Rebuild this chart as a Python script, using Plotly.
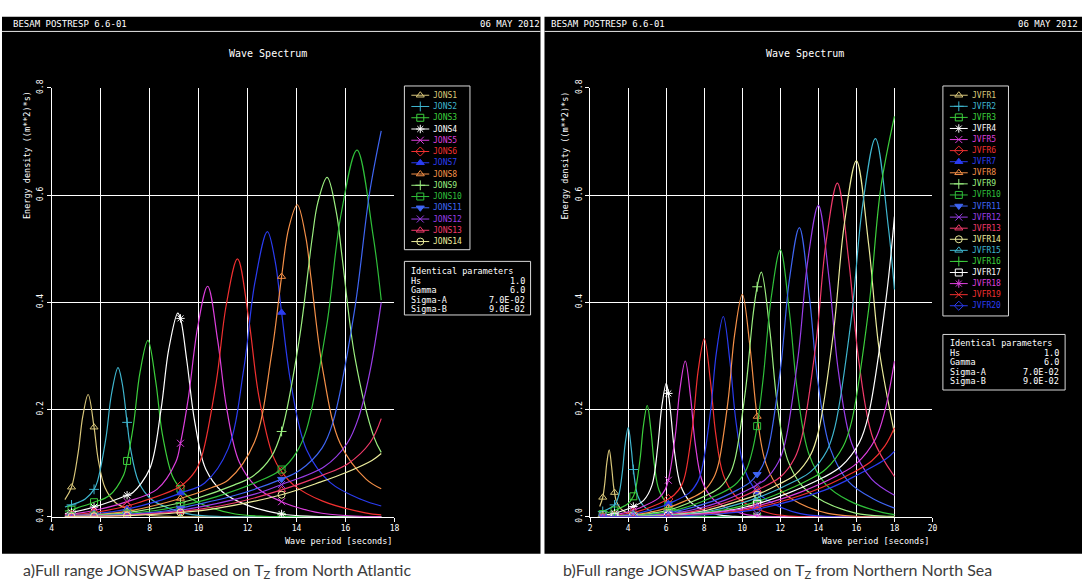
import plotly.graph_objects as go

W, H = 1087, 587
MONO = "DejaVu Sans Mono"

# ---------------------------------------------------------------------------
# Wave periods (s) where the post-processor prints a symbol on every curve
MARK_T_A = [4.81, 5.73, 7.08, 9.26, 13.39]
MARK_T_B = [2.66, 3.28, 4.27, 6.11, 10.78]

# (a) North Atlantic: (wave period [s], energy density [m^2 s])
jons1 = [(4.54, 0.032), (4.81, 0.055), (5.08, 0.119), (5.27, 0.187), (5.49, 0.228), (5.73, 0.167),
         (5.90, 0.107), (6.18, 0.054), (6.59, 0.027), (7.08, 0.015), (7.96, 0.003), (8.78, 0.0004),
         (9.26, 0.0), (13.39, 0.0), (17.46, 0.0)]
jons2 = [(4.54, 0.018), (4.81, 0.022), (5.37, 0.033), (5.73, 0.051), (5.87, 0.066), (6.21, 0.145),
         (6.44, 0.228), (6.71, 0.278), (6.88, 0.249), (7.08, 0.176), (7.21, 0.130), (7.55, 0.065),
         (8.05, 0.033), (8.72, 0.017), (9.26, 0.009), (9.73, 0.004), (10.74, 0.0005), (13.39, 0.0),
         (17.46, 0.0)]
jons3 = [(4.54, 0.0105), (4.81, 0.013), (5.15, 0.018), (5.73, 0.027), (6.34, 0.039), (6.94, 0.078),
         (7.08, 0.104), (7.34, 0.171), (7.61, 0.270), (7.93, 0.329), (8.25, 0.252), (8.52, 0.154),
         (8.92, 0.077), (9.26, 0.052), (9.52, 0.039), (10.31, 0.020), (11.50, 0.005), (12.69, 0.0006),
         (13.39, 0.0), (17.46, 0.0)]
jons4 = [(4.54, 0.006), (4.81, 0.008), (5.73, 0.018), (7.08, 0.040), (7.32, 0.045), (8.01, 0.090),
         (8.46, 0.198), (8.78, 0.312), (9.15, 0.380), (9.26, 0.370), (9.52, 0.291), (9.84, 0.178),
         (10.29, 0.089), (10.98, 0.046), (11.90, 0.023), (13.39, 0.005), (14.64, 0.0006), (17.46, 0.0)]
jons5 = [(4.54, 0.004), (4.81, 0.005), (5.19, 0.007), (5.73, 0.0115), (6.74, 0.023), (7.08, 0.028),
         (8.30, 0.051), (9.07, 0.102), (9.26, 0.137), (9.59, 0.224), (9.96, 0.353), (10.37, 0.430),
         (10.78, 0.329), (11.15, 0.201), (11.67, 0.101), (12.44, 0.052), (13.39, 0.028), (14.52, 0.011),
         (15.04, 0.0064), (16.59, 0.0007), (17.46, 0.0001)]
jons6 = [(4.54, 0.0025), (4.81, 0.0034), (5.73, 0.0077), (7.08, 0.020), (7.53, 0.026), (9.26, 0.057),
         (9.85, 0.084), (10.14, 0.114), (10.72, 0.251), (11.13, 0.395), (11.59, 0.481), (12.05, 0.368),
         (12.46, 0.225), (13.04, 0.113), (13.39, 0.084), (13.91, 0.058), (15.07, 0.029), (16.81, 0.0072),
         (17.46, 0.0035)]
jons7 = [(4.54, 0.0017), (4.81, 0.0023), (5.73, 0.0053), (6.41, 0.0089), (7.08, 0.014), (8.33, 0.029),
         (9.26, 0.044), (10.25, 0.063), (11.21, 0.127), (11.85, 0.277), (12.30, 0.437), (12.81, 0.532),
         (13.13, 0.476), (13.39, 0.381), (13.77, 0.249), (14.41, 0.125), (15.37, 0.064), (16.65, 0.032),
         (17.46, 0.020)]
jons8 = [(4.54, 0.0012), (4.81, 0.0016), (5.73, 0.0037), (7.08, 0.010), (9.26, 0.034), (10.52, 0.054),
         (11.22, 0.069), (12.28, 0.139), (12.98, 0.303), (13.39, 0.448), (13.68, 0.538), (14.03, 0.582),
         (14.38, 0.521), (14.59, 0.446), (15.08, 0.272), (15.78, 0.137), (16.84, 0.070), (17.46, 0.052)]
jons9 = [(4.54, 0.0009), (4.81, 0.0011), (5.73, 0.0027), (7.08, 0.0075), (9.26, 0.026), (9.91, 0.034),
         (11.44, 0.059), (12.20, 0.075), (12.96, 0.111), (13.39, 0.159), (14.11, 0.330), (14.64, 0.520),
         (14.87, 0.586), (15.25, 0.633), (15.63, 0.567), (15.86, 0.485), (16.39, 0.296), (17.16, 0.149),
         (17.46, 0.120)]
jons10 = [(4.54, 0.0006), (4.81, 0.0008), (5.73, 0.002), (6.59, 0.004), (7.08, 0.0058), (8.24, 0.0115),
          (9.26, 0.020), (10.71, 0.037), (12.35, 0.064), (13.39, 0.088), (14.00, 0.120), (14.41, 0.163),
          (15.23, 0.356), (15.81, 0.562), (16.47, 0.684), (17.13, 0.524), (17.46, 0.404)]
jons11 = [(4.54, 0.0004), (4.81, 0.0006), (5.73, 0.0015), (7.08, 0.0043), (8.85, 0.012), (9.26, 0.016),
          (11.50, 0.040), (13.39, 0.070), (14.15, 0.087), (15.04, 0.128), (15.48, 0.175), (16.36, 0.382),
          (16.98, 0.603), (17.46, 0.720)]
jons12 = [(4.54, 0.0004), (4.81, 0.0005), (5.73, 0.0012), (7.08, 0.0034), (9.26, 0.012), (12.29, 0.042),
          (13.39, 0.060), (15.13, 0.093), (16.07, 0.137), (16.55, 0.187), (17.00, 0.271), (17.46, 0.400)]
jons13 = [(4.54, 0.0003), (4.81, 0.0004), (5.73, 0.0009), (7.08, 0.0026), (9.26, 0.0094), (10.07, 0.014),
          (11.50, 0.026), (13.39, 0.050), (15.10, 0.078), (16.10, 0.099), (17.00, 0.138), (17.46, 0.183)]
jons14 = [(4.54, 0.0002), (4.81, 0.0003), (5.73, 0.0007), (7.08, 0.002), (9.26, 0.0078), (10.68, 0.015),
          (13.39, 0.041), (15.00, 0.065), (16.00, 0.082), (17.08, 0.105), (17.46, 0.118)]

# (b) Northern North Sea
jvfr1 = [(2.50, 0.019), (2.66, 0.036), (2.775, 0.065), (2.88, 0.102), (3.00, 0.1245), (3.12, 0.095),
         (3.225, 0.058), (3.28, 0.045), (3.375, 0.029), (3.60, 0.015), (3.90, 0.0076), (4.27, 0.0026),
         (4.80, 0.0002), (6.11, 0.0), (10.78, 0.0), (18.0, 0.0)]
jvfr2 = [(2.50, 0.0076), (2.66, 0.0098), (3.28, 0.022), (3.50, 0.040), (3.70, 0.086), (3.84, 0.136),
         (4.00, 0.166), (4.16, 0.127), (4.27, 0.088), (4.50, 0.039), (4.80, 0.020), (5.20, 0.010),
         (5.80, 0.0025), (6.11, 0.0009), (6.40, 0.0003), (10.78, 0.0), (18.0, 0.0)]
jvfr3 = [(2.50, 0.0035), (2.66, 0.0048), (3.28, 0.0116), (4.00, 0.0247), (4.27, 0.038), (4.375, 0.049),
         (4.625, 0.108), (4.80, 0.170), (5.00, 0.2075), (5.20, 0.159), (5.375, 0.097), (5.625, 0.049),
         (6.11, 0.022), (6.50, 0.0127), (7.25, 0.0031), (8.00, 0.0004), (10.78, 0.0), (18.0, 0.0)]
jvfr4 = [(2.50, 0.0018), (2.66, 0.0024), (3.00, 0.0042), (3.28, 0.0063), (3.90, 0.0134), (4.27, 0.019),
         (4.80, 0.030), (5.25, 0.059), (5.55, 0.130), (5.76, 0.204), (6.00, 0.249), (6.11, 0.230),
         (6.24, 0.191), (6.45, 0.117), (6.75, 0.059), (7.20, 0.030), (7.80, 0.015), (8.70, 0.0037),
         (9.60, 0.0004), (10.78, 0.0), (18.0, 0.0)]
jvfr5 = [(2.50, 0.001), (2.66, 0.0013), (3.28, 0.0036), (3.50, 0.0049), (4.27, 0.012), (4.55, 0.0157),
         (5.60, 0.0346), (5.95, 0.051), (6.11, 0.068), (6.475, 0.151), (6.72, 0.238), (7.00, 0.2905),
         (7.28, 0.223), (7.525, 0.136), (7.875, 0.068), (8.40, 0.035), (9.10, 0.0177), (10.15, 0.0044),
         (10.78, 0.0015), (11.20, 0.0005), (18.0, 0.0)]
jvfr6 = [(2.50, 0.0006), (2.66, 0.0007), (3.28, 0.0022), (4.00, 0.0056), (4.27, 0.0076), (5.20, 0.018),
         (6.11, 0.033), (6.40, 0.040), (6.80, 0.058), (7.00, 0.079), (7.40, 0.173), (7.68, 0.273),
         (8.00, 0.332), (8.32, 0.254), (8.60, 0.155), (9.00, 0.078), (9.60, 0.040), (10.40, 0.020),
         (10.78, 0.014), (11.60, 0.005), (12.80, 0.0006), (18.0, 0.0)]
jvfr7 = [(2.50, 0.0003), (2.66, 0.0005), (3.28, 0.0014), (4.27, 0.0049), (4.50, 0.0063), (5.85, 0.020),
         (6.11, 0.024), (7.20, 0.044), (7.65, 0.065), (7.875, 0.089), (8.325, 0.195), (8.64, 0.307),
         (9.00, 0.3735), (9.36, 0.286), (9.675, 0.175), (10.125, 0.088), (10.78, 0.046), (11.70, 0.023),
         (13.05, 0.0056), (14.40, 0.0006), (18.0, 0.0)]
jvfr8 = [(2.50, 0.0002), (2.66, 0.0003), (3.28, 0.0009), (4.27, 0.0034), (5.00, 0.007), (6.11, 0.017),
         (6.50, 0.022), (8.00, 0.049), (8.50, 0.073), (8.75, 0.099), (9.25, 0.216), (9.60, 0.341),
         (10.00, 0.415), (10.40, 0.318), (10.78, 0.187), (11.25, 0.098), (12.00, 0.050), (13.00, 0.025),
         (14.50, 0.0062), (16.00, 0.0007), (18.0, 0.0)]
jvfr9 = [(2.50, 0.0001), (2.66, 0.0002), (3.28, 0.0006), (4.27, 0.0023), (5.50, 0.0077), (6.11, 0.012),
         (7.15, 0.025), (8.80, 0.054), (9.35, 0.080), (9.625, 0.109), (10.175, 0.238), (10.56, 0.375),
         (10.78, 0.429), (11.00, 0.4565), (11.44, 0.350), (11.825, 0.214), (12.375, 0.107), (13.20, 0.055),
         (14.30, 0.028), (15.95, 0.0068), (17.60, 0.0008), (18.0, 0.0005)]
jvfr10 = [(2.50, 0.0001), (2.66, 0.0002), (3.28, 0.0004), (4.27, 0.0016), (6.11, 0.0091), (7.80, 0.027),
          (9.60, 0.059), (10.20, 0.087), (10.50, 0.119), (10.78, 0.169), (11.10, 0.259), (11.52, 0.409),
          (12.00, 0.498), (12.48, 0.381), (12.90, 0.233), (13.50, 0.117), (14.40, 0.060), (15.60, 0.030),
          (17.40, 0.0075), (18.0, 0.0039)]
jvfr11 = [(2.50, 0.0001), (2.66, 0.0001), (3.28, 0.0003), (4.27, 0.0011), (5.20, 0.0031), (6.11, 0.0069),
          (8.45, 0.029), (9.75, 0.050), (10.40, 0.064), (10.78, 0.079), (11.05, 0.094), (11.375, 0.128),
          (12.025, 0.281), (12.48, 0.443), (13.00, 0.5395), (13.52, 0.413), (13.975, 0.252),
          (14.625, 0.127), (15.60, 0.065), (16.90, 0.033), (18.0, 0.016)]
jvfr12 = [(2.50, 0.0), (2.66, 0.0001), (3.28, 0.0002), (4.27, 0.0009), (5.60, 0.0034), (6.11, 0.0052),
          (7.00, 0.0098), (9.10, 0.031), (10.50, 0.054), (10.78, 0.060), (11.20, 0.069), (11.90, 0.102),
          (12.25, 0.138), (12.95, 0.303), (13.44, 0.477), (14.00, 0.581), (14.56, 0.445), (15.05, 0.272),
          (15.75, 0.137), (16.80, 0.070), (18.0, 0.040)]
jvfr13 = [(2.50, 0.0), (2.66, 0.0001), (3.28, 0.0002), (4.27, 0.0007), (6.11, 0.0039), (7.50, 0.0105),
          (9.75, 0.034), (10.78, 0.050), (12.00, 0.074), (12.75, 0.109), (13.125, 0.148), (13.875, 0.324),
          (14.40, 0.511), (15.00, 0.6225), (15.60, 0.477), (16.125, 0.291), (16.875, 0.146), (18.0, 0.075)]
jvfr14 = [(2.50, 0.0), (3.28, 0.0001), (4.27, 0.0005), (6.11, 0.0031), (8.00, 0.011), (10.40, 0.036),
          (10.78, 0.041), (12.00, 0.062), (12.80, 0.079), (13.60, 0.116), (14.00, 0.158), (14.80, 0.346),
          (15.36, 0.545), (16.00, 0.664), (16.64, 0.509), (17.20, 0.311), (18.0, 0.156)]
jvfr15 = [(2.50, 0.0), (3.28, 0.0001), (4.27, 0.0004), (6.11, 0.0024), (8.50, 0.012), (10.78, 0.035),
          (12.75, 0.066), (13.60, 0.084), (14.45, 0.123), (14.875, 0.168), (15.725, 0.368), (16.32, 0.579),
          (17.00, 0.7055), (17.68, 0.540), (18.0, 0.424)]
jvfr16 = [(2.50, 0.0), (3.28, 0.0001), (4.27, 0.0003), (6.11, 0.002), (9.00, 0.0125), (10.78, 0.028),
          (11.70, 0.040), (13.50, 0.069), (14.40, 0.089), (15.30, 0.131), (15.75, 0.178), (16.65, 0.389),
          (17.28, 0.613), (18.0, 0.747)]
jvfr17 = [(2.50, 0.0), (3.28, 0.0001), (4.27, 0.0002), (6.11, 0.0016), (9.50, 0.013), (10.78, 0.024),
          (12.35, 0.043), (14.25, 0.073), (15.20, 0.094), (16.15, 0.138), (16.625, 0.188), (17.575, 0.411),
          (18.0, 0.560)]
jvfr18 = [(2.50, 0.0), (4.27, 0.0002), (6.11, 0.0013), (10.00, 0.014), (10.78, 0.020), (13.00, 0.045),
          (15.00, 0.077), (16.00, 0.099), (17.00, 0.145), (17.50, 0.198), (18.0, 0.290)]
jvfr19 = [(2.50, 0.0), (4.27, 0.0001), (6.11, 0.001), (9.00, 0.0072), (10.78, 0.017), (13.65, 0.047),
          (15.75, 0.081), (16.80, 0.104), (17.50, 0.132), (18.0, 0.166)]
jvfr20 = [(2.50, 0.0), (4.27, 0.0001), (6.11, 0.0008), (9.00, 0.0059), (10.78, 0.014), (14.30, 0.049),
          (16.00, 0.077), (17.60, 0.109), (18.0, 0.122)]

CURVES_A = [jons1, jons2, jons3, jons4, jons5, jons6, jons7, jons8, jons9, jons10, jons11, jons12, jons13, jons14]
CURVES_B = [jvfr1, jvfr2, jvfr3, jvfr4, jvfr5, jvfr6, jvfr7, jvfr8, jvfr9, jvfr10,
            jvfr11, jvfr12, jvfr13, jvfr14, jvfr15, jvfr16, jvfr17, jvfr18, jvfr19, jvfr20]
NAMES_A = [f"JONS{i}" for i in range(1, 15)]
NAMES_B = [f"JVFR{i}" for i in range(1, 21)]

X_TICKS_A = [4, 6, 8, 10, 12, 14, 16, 18]
X_TICKS_B = [2, 4, 6, 8, 10, 12, 14, 16, 18, 20]
Y_TICKS = [0.0, 0.2, 0.4, 0.6, 0.8]
Y_TICK_TEXT = ["0.0", "0.2", "0.4", "0.6", "0.8"]

PARAM_LABELS = ["Hs", "Gamma", "Sigma-A", "Sigma-B"]
PARAM_VALUES = ["1.0", "6.0", "7.0E-02", "9.0E-02"]

PEN = ["#d9c77a", "#3fb6cf", "#3ccf3c", "#ffffff", "#dd3fdd", "#f23030", "#2a3cf0",
       "#f59048", "#9cef80", "#2fbf3a", "#3f66f4", "#9a3ee8", "#f03a6a", "#ecec9c"]
COLORS_A = PEN
COLORS_B = PEN + PEN[1:7]
SYM = ["triangle-up-open", "cross-thin-open", "square-open", "asterisk-open", "x-thin-open",
       "diamond-open", "triangle-up", "triangle-up-open", "cross-thin-open", "square-open",
       "triangle-down", "x-thin-open", "triangle-up-open", "circle-open"]
SYMBOLS_A = SYM
SYMBOLS_B = SYM + SYM[:6]

# ---------------------------------------------------------------------------
def px(x):
    return x / W


def py(y):
    return 1 - y / H


fig = go.Figure()
shapes, annotations = [], []

# black plotter sheets, header rules
for x0, x1 in [(0, 542), (546, 1087)]:
    shapes.append(dict(type="rect", xref="paper", yref="paper", x0=px(x0), x1=px(x1),
                       y0=py(559), y1=py(8), fillcolor="black", line_width=0, layer="below"))
    shapes.append(dict(type="line", xref="paper", yref="paper", x0=px(x0), x1=px(x1),
                       y0=py(23), y1=py(23), line=dict(color="#e8e8e8", width=1)))


def txt(x, y, s, size=9, color="white", xa="left", family=MONO, angle=0):
    annotations.append(dict(x=px(x), y=py(y), xref="paper", yref="paper", text=s, showarrow=False,
                            xanchor=xa, yanchor="middle", textangle=angle,
                            font=dict(family=family, size=size, color=color)))


# page headers and titles
for left, right, centre in [(9, 543, 268), (551, 1085, 808)]:
    txt(left, 15, "BESAM POSTRESP 6.6-01", size=9)
    txt(right, 15, "06 MAY 2012", size=9, xa="right")
    txt(centre, 46, "Wave Spectrum", size=10, xa="center")

# spectra
def add_panel(curves, names, colors, symbols, marks, xa, ya):
    for pts, name, c, sym in zip(curves, names, colors, symbols):
        t = [p[0] for p in pts]
        s = [p[1] for p in pts]
        fig.add_trace(go.Scatter(x=t, y=s, mode="lines", name=name, xaxis=xa, yaxis=ya,
                                 line=dict(color=c, width=1.2, shape="spline", smoothing=1.0),
                                 hoverinfo="skip", showlegend=False))
        mt = [p[0] for p in pts if p[0] in marks]
        ms = [p[1] for p in pts if p[0] in marks]
        fig.add_trace(go.Scatter(x=mt, y=ms, mode="markers", xaxis=xa, yaxis=ya,
                                 marker=dict(symbol=sym, size=7, color=c, line=dict(color=c, width=1)),
                                 hoverinfo="skip", showlegend=False))


add_panel(CURVES_A, NAMES_A, COLORS_A, SYMBOLS_A, MARK_T_A, "x", "y")
add_panel(CURVES_B, NAMES_B, COLORS_B, SYMBOLS_B, MARK_T_B, "x2", "y2")

# axis titles
for ylab_x, xlab_x in [(25, 395), (567, 935)]:
    txt(ylab_x, 150, "Energy density ((m**2)*s)", size=8.5, xa="center", angle=-90)
    txt(xlab_x, 546, "Wave period [seconds]", size=8.5, xa="right")

# legends drawn in pixel space on an overlay axis
leg_x, leg_y, leg_sym, leg_col = [], [], [], []


def add_legend(names, colors, symbols, box, x_line, x_text, y_first, dy):
    bx0, by0, bx1, by1 = box
    shapes.append(dict(type="rect", xref="paper", yref="paper", x0=px(bx0), x1=px(bx1),
                       y0=py(by1), y1=py(by0), line=dict(color="#d8d8d8", width=1)))
    for i, (n, c, s) in enumerate(zip(names, colors, symbols)):
        yy = y_first + i * dy
        shapes.append(dict(type="line", xref="paper", yref="paper", x0=px(x_line[0]), x1=px(x_line[1]),
                           y0=py(yy), y1=py(yy), line=dict(color=c, width=1)))
        leg_x.append((x_line[0] + x_line[1]) / 2)
        leg_y.append(yy)
        leg_sym.append(s)
        leg_col.append(c)
        txt(x_text, yy, n, size=8, color=c)


def add_params(box, x_left, x_right, y_first, dy):
    bx0, by0, bx1, by1 = box
    shapes.append(dict(type="rect", xref="paper", yref="paper", x0=px(bx0), x1=px(bx1),
                       y0=py(by1), y1=py(by0), line=dict(color="#d8d8d8", width=1)))
    txt(x_left, y_first, "Identical parameters", size=8.5)
    for i, (lab, val) in enumerate(zip(PARAM_LABELS, PARAM_VALUES)):
        yy = y_first + (i + 1) * dy
        txt(x_left, yy, lab, size=8.5)
        txt(x_right, yy, val, size=8.5, xa="right")


add_legend(NAMES_A, COLORS_A, SYMBOLS_A, (405, 79, 471, 247), (412, 430), 432, 88.5, 11.55)
add_legend(NAMES_B, COLORS_B, SYMBOLS_B, (947, 79, 1013, 315), (954, 972), 974, 88.5, 11.37)
add_params((405, 259, 532, 314), 410, 528, 269, 9.8)
add_params((947, 334, 1070, 391), 952, 1066, 343, 9.8)

fig.add_trace(go.Scatter(x=leg_x, y=leg_y, mode="markers", xaxis="x3", yaxis="y3",
                         marker=dict(symbol=leg_sym, size=7, color=leg_col, line=dict(color=leg_col, width=1)),
                         hoverinfo="skip", showlegend=False))

# captions under the plots
CAP_FONT = "Lato"
txt(19, 576, "a)Full range JONSWAP based on T<sub>Z</sub> from North Atlantic", size=16,
    color="#3c3c3c", family=CAP_FONT)
txt(563, 576, "b)Full range JONSWAP based on T<sub>Z</sub> from Northern North Sea", size=16,
    color="#3c3c3c", family=CAP_FONT)

# axes
Y_DOM = [py(521), py(81)]
common = dict(showline=True, linecolor="white", linewidth=1, ticks="outside", tickcolor="white",
              ticklen=4, tickwidth=1, showgrid=True, gridcolor="white", gridwidth=1, zeroline=False,
              tickfont=dict(family=MONO, size=8, color="white"), fixedrange=True)
fig.update_layout(
    xaxis=dict(domain=[px(50), px(395)], range=[4, 18], tickvals=X_TICKS_A, anchor="y", **common),
    yaxis=dict(domain=Y_DOM, range=[0, 0.8], tickvals=Y_TICKS, ticktext=Y_TICK_TEXT, tickangle=-90,
               anchor="x", **common),
    xaxis2=dict(domain=[px(592), px(936.5)], range=[2, 20], tickvals=X_TICKS_B, anchor="y2", **common),
    yaxis2=dict(domain=Y_DOM, range=[0, 0.8], tickvals=Y_TICKS, ticktext=Y_TICK_TEXT, tickangle=-90,
                anchor="x2", **common),
    xaxis3=dict(domain=[0, 1], range=[0, W], visible=False, fixedrange=True, anchor="y3"),
    yaxis3=dict(domain=[0, 1], range=[H, 0], visible=False, fixedrange=True, anchor="x3"),
    width=W, height=H, margin=dict(l=0, r=0, t=0, b=0),
    paper_bgcolor="white", plot_bgcolor="rgba(0,0,0,0)",
    showlegend=False, shapes=shapes, annotations=annotations,
)

fig.write_html("out.html")
